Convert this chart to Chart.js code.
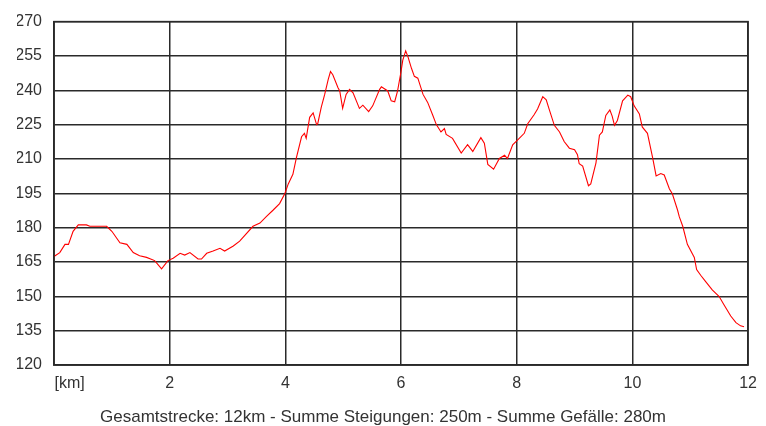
<!DOCTYPE html>
<html>
<head>
<meta charset="utf-8">
<script src="https://cdn.jsdelivr.net/npm/chart.js@4/dist/chart.umd.min.js"></script>
<style>
  html, body { margin: 0; padding: 0; background: #fff; }
  #wrap { width: 766px; height: 426px; position: relative; }
</style>
</head>
<body>
<div id="wrap"><canvas id="chart"></canvas></div>
<script>
const distanceKm = [
  0.00, 0.10, 0.19, 0.25, 0.33, 0.42, 0.56, 0.62, 0.91, 1.00, 1.14, 1.26, 1.37, 1.48, 1.60, 1.74, 1.86, 1.97,
  2.06, 2.18, 2.26, 2.35, 2.49, 2.55, 2.64, 2.75, 2.87, 2.95, 3.10, 3.21, 3.44, 3.56, 3.67, 3.79, 3.90, 3.99,
  4.05, 4.13, 4.19, 4.28, 4.33, 4.36, 4.42, 4.48, 4.54, 4.56, 4.62, 4.68, 4.74, 4.78, 4.82, 4.91, 4.94, 4.99,
  5.05, 5.11, 5.17, 5.28, 5.34, 5.44, 5.51, 5.63, 5.66, 5.77, 5.83, 5.89, 5.94, 6.00, 6.03, 6.08, 6.12, 6.18,
  6.23, 6.29, 6.38, 6.46, 6.55, 6.61, 6.69, 6.75, 6.78, 6.89, 7.04, 7.15, 7.24, 7.38, 7.44, 7.50, 7.60, 7.70,
  7.79, 7.84, 7.93, 8.03, 8.13, 8.19, 8.30, 8.36, 8.45, 8.51, 8.56, 8.65, 8.74, 8.82, 8.91, 9.00, 9.05, 9.08,
  9.14, 9.24, 9.28, 9.37, 9.43, 9.48, 9.54, 9.61, 9.65, 9.69, 9.74, 9.83, 9.92, 9.97, 10.03, 10.12, 10.17, 10.26,
  10.35, 10.41, 10.49, 10.55, 10.64, 10.69, 10.78, 10.81, 10.87, 10.95, 11.07, 11.11, 11.18, 11.27, 11.38, 11.50,
  11.58, 11.70, 11.79, 11.87, 11.93
];

const elevation = [
  167.4, 169.1, 172.7, 172.7, 178.4, 181.2, 181.2, 180.6, 180.6, 178.4, 173.4, 172.7, 169.1, 167.7, 167.0, 165.6, 162.0, 165.6,
  166.6, 168.8, 168.0, 169.1, 166.3, 166.3, 168.8, 169.8, 171.0, 169.8, 172.0, 174.1, 180.6, 182.0, 184.8, 187.7, 190.5, 194.8,
  199.1, 203.3, 210.5, 219.7, 221.2, 219.0, 228.2, 230.1, 225.0, 225.4, 232.5, 238.2, 244.7, 248.2, 246.8, 241.1, 239.7, 232.1,
  238.2, 240.4, 238.9, 232.1, 233.5, 230.7, 233.2, 240.4, 241.5, 239.7, 235.4, 235.0, 239.7, 248.2, 253.2, 257.2, 254.6, 249.6,
  246.1, 245.3, 238.2, 234.7, 229.0, 225.0, 221.8, 223.3, 220.7, 219.0, 212.6, 216.2, 213.3, 219.3, 216.9, 207.6, 205.5, 210.2,
  211.6, 210.2, 216.2, 218.7, 221.2, 225.4, 229.3, 231.8, 237.2, 235.8, 231.8, 224.7, 221.8, 217.6, 214.7, 214.0, 211.9, 207.9,
  206.9, 198.3, 199.1, 208.3, 220.4, 221.8, 229.0, 231.4, 228.7, 224.7, 226.8, 235.4, 237.9, 237.2, 233.2, 229.7, 224.0, 221.2,
  210.5, 202.6, 203.6, 203.0, 196.9, 194.8, 187.7, 184.8, 180.6, 172.7, 167.0, 161.7, 159.2, 156.3, 152.8, 149.9,
  146.4, 141.4, 138.5, 137.1, 136.7
];

const yTicks = [120, 135, 150, 165, 180, 195, 210, 225, 240, 255, 270];
const xTicks = [0, 2, 4, 6, 8, 10, 12];
const footerText = 'Gesamtstrecke: 12km - Summe Steigungen: 250m - Summe Gefälle: 280m';

const points = distanceKm.map((km, i) => ({ x: km, y: elevation[i] }));

const gridColor = '#2a2a2a';
const textColor = '#333';
const fontFamily = 'Arial, "Liberation Sans", sans-serif';

new Chart(document.getElementById('chart'), {
  type: 'line',
  data: {
    datasets: [{
      data: points,
      borderColor: '#ff0000',
      borderWidth: 1.1,
      pointRadius: 0,
      tension: 0,
      fill: false
    }]
  },
  options: {
    responsive: true,
    maintainAspectRatio: false,
    animation: false,
    // left padding mirrors the right one so the footer sits at the canvas centre
    layout: { padding: { top: 14, right: 17, bottom: 0, left: 17 } },
    plugins: {
      legend: { display: false },
      tooltip: { enabled: false },
      title: {
        display: true,
        position: 'bottom',
        fullSize: true,
        text: footerText,
        color: textColor,
        font: { family: fontFamily, size: 17, weight: 'normal', lineHeight: 1 },
        padding: 0
      }
    },
    scales: {
      x: {
        type: 'linear',
        min: xTicks[0],
        max: xTicks[xTicks.length - 1],
        afterBuildTicks: (scale) => { scale.ticks = xTicks.map(v => ({ value: v })); },
        afterFit: (scale) => { scale.height = 44; },
        grid: { color: gridColor, lineWidth: 1.5, drawTicks: false },
        border: { color: gridColor, width: 1.5 },
        ticks: {
          padding: 9,
          color: textColor,
          font: { family: fontFamily, size: 16 },
          maxRotation: 0,
          callback: (v) => v === 0 ? '       [km]' : String(v)
        }
      },
      y: {
        min: yTicks[0],
        max: yTicks[yTicks.length - 1],
        afterBuildTicks: (scale) => { scale.ticks = yTicks.map(v => ({ value: v })); },
        afterFit: (scale) => { scale.width = 37; },
        grid: { color: gridColor, lineWidth: 1.5, drawTicks: false },
        border: { color: gridColor, width: 1.5 },
        ticks: {
          padding: 12,
          color: textColor,
          font: { family: fontFamily, size: 16 }
        }
      }
    }
  },
  plugins: [{
    id: 'frame',
    afterDraw(chart) {
      const { ctx, chartArea } = chart;
      ctx.save();
      ctx.strokeStyle = gridColor;
      ctx.lineWidth = 1.5;
      ctx.strokeRect(chartArea.left, chartArea.top, chartArea.right - chartArea.left, chartArea.bottom - chartArea.top);
      ctx.restore();
    }
  }]
});
</script>
</body>
</html>
